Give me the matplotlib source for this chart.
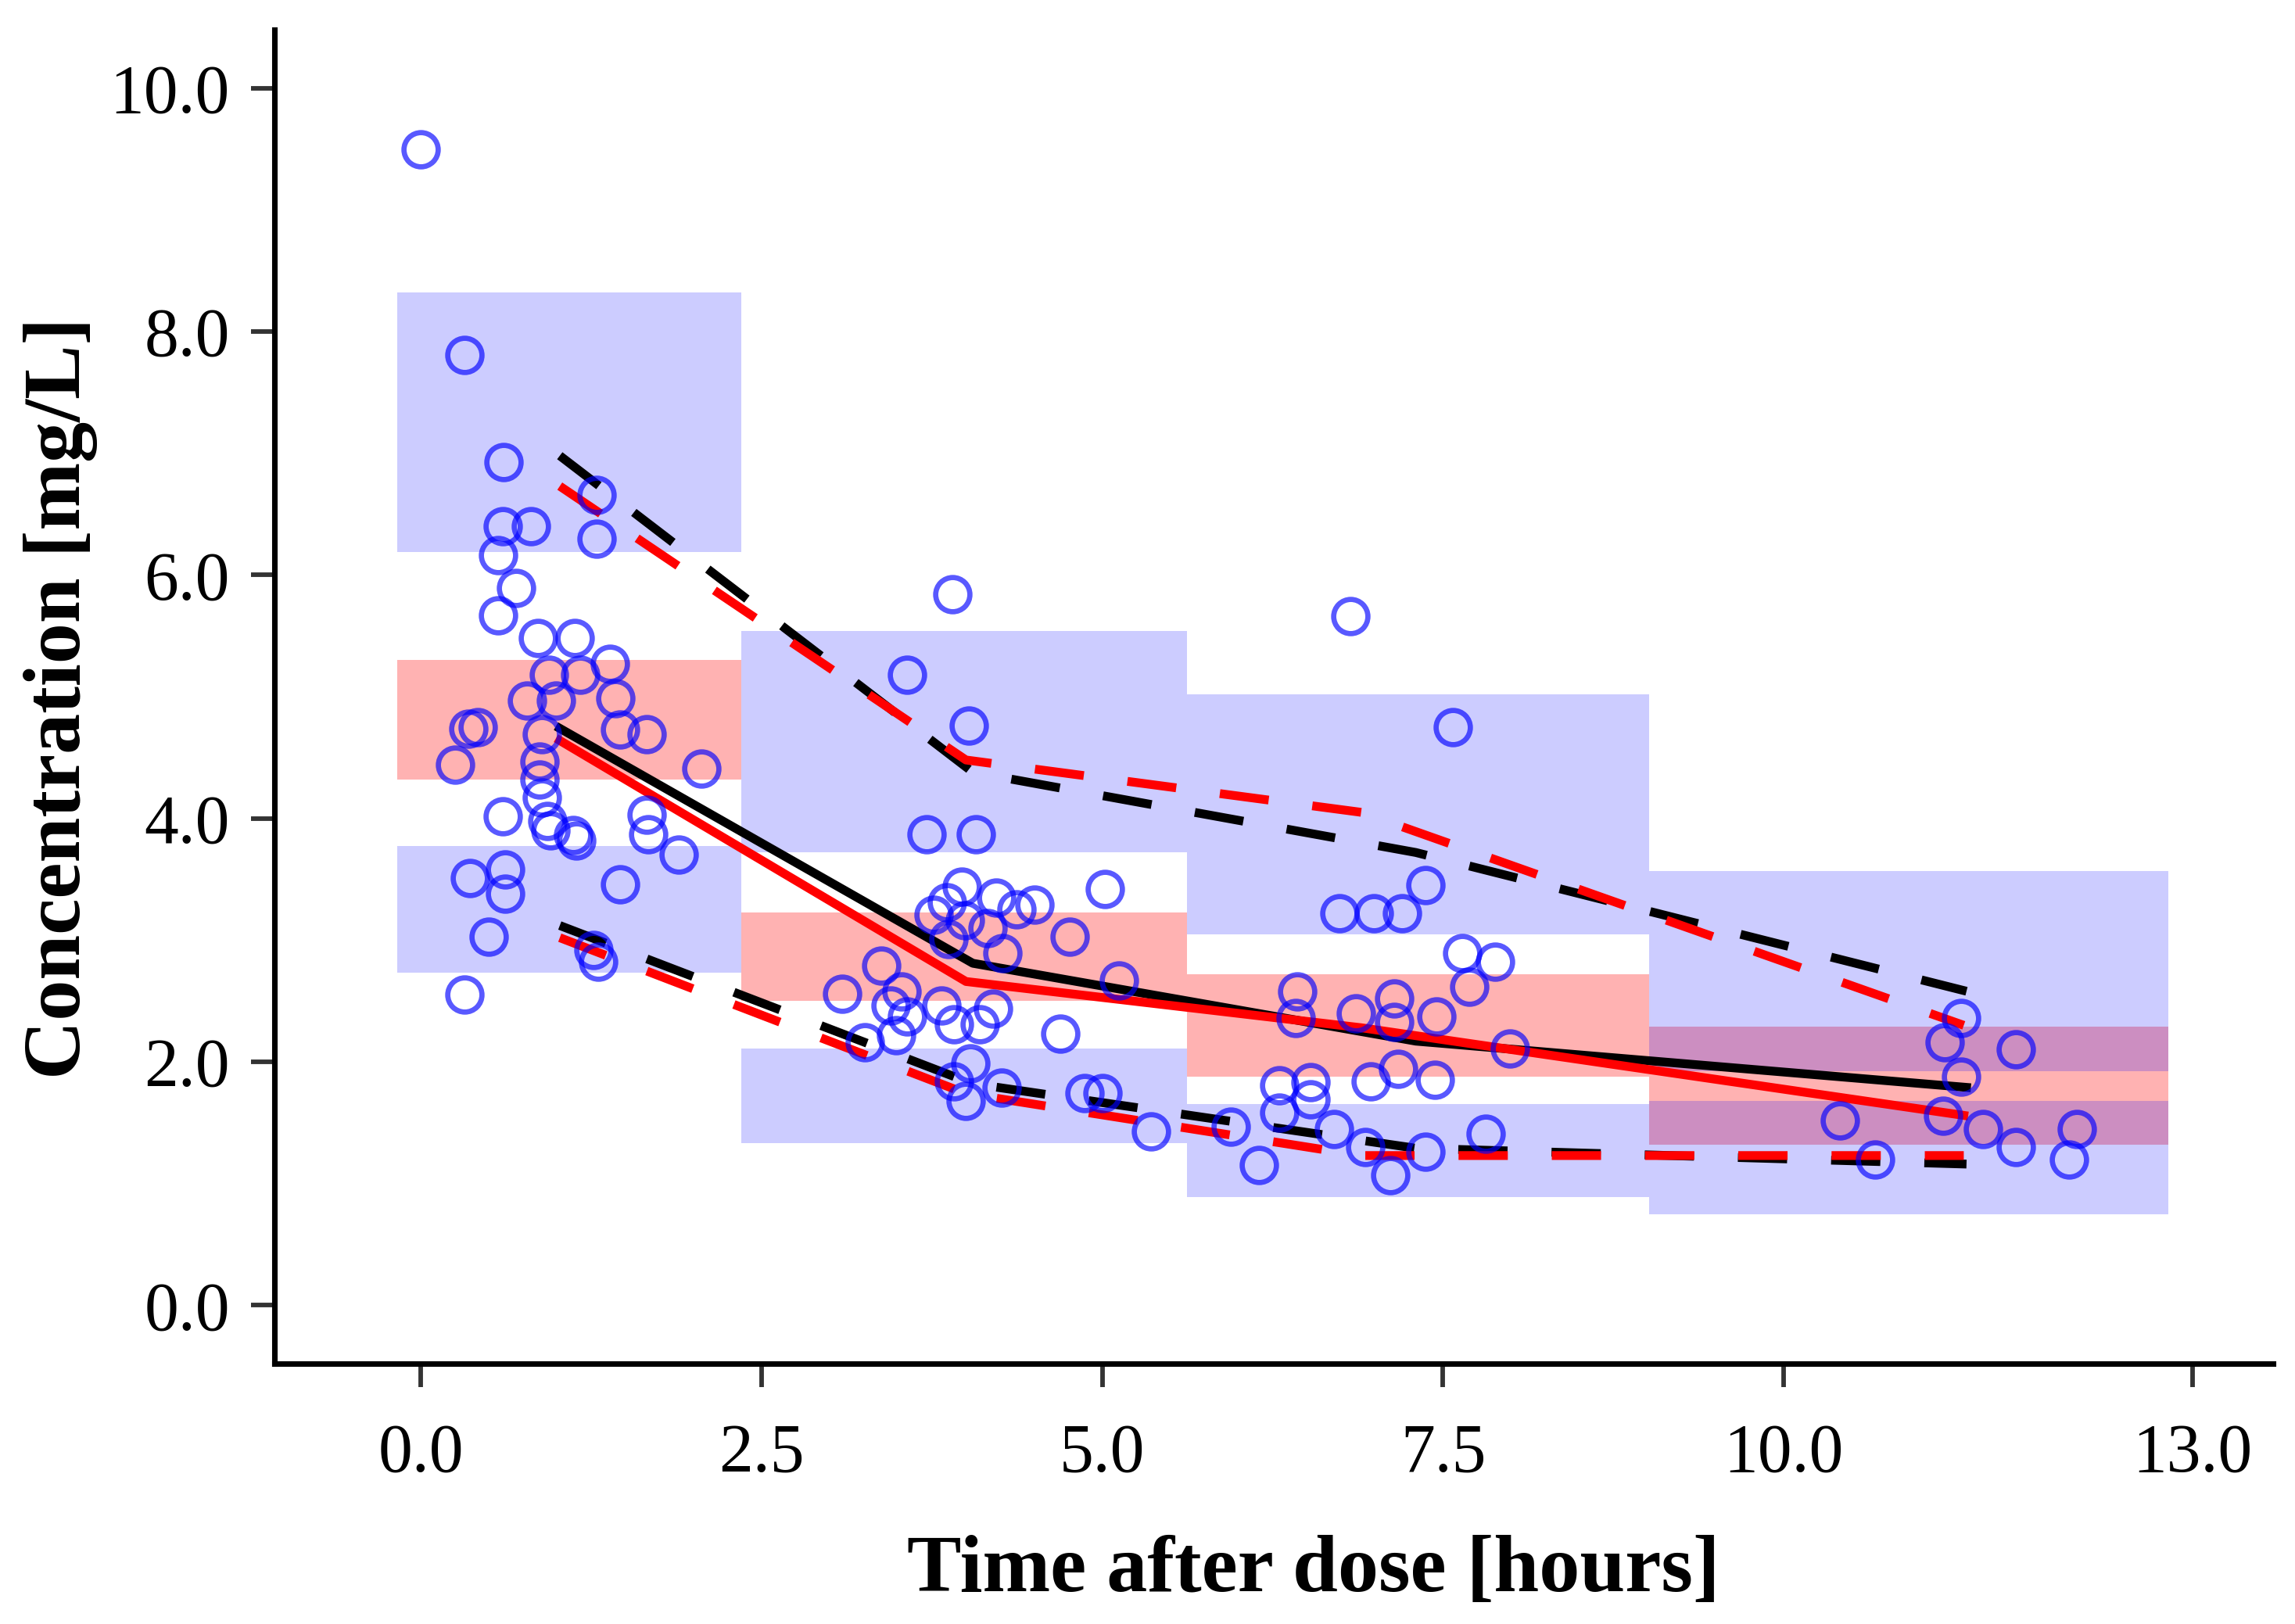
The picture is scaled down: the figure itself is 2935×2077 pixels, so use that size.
import matplotlib
matplotlib.use('Agg')
import matplotlib.pyplot as plt

plt.rcParams['font.family'] = ['Liberation Serif', 'DejaVu Serif']

# observed concentrations
obs_time = [0.00, 0.32, 0.61, 1.29, 0.60, 0.81, 1.29, 0.57, 0.70, 0.57,
            0.86, 1.13, 1.39, 0.94, 1.17, 0.78, 0.99, 1.43, 0.35, 0.42,
            0.89, 1.46, 1.66, 0.25, 0.87, 0.87, 0.89, 0.60, 0.93, 1.12,
            0.95, 1.66, 1.67, 1.89, 2.06, 1.14, 0.36, 0.62, 0.62, 1.46,
            0.50, 1.27, 1.30, 0.32,
            3.09, 3.38, 3.26, 3.57, 3.90, 4.02, 3.71, 4.07, 3.97, 4.22,
            3.86, 4.50, 5.02, 4.37, 3.76, 3.99, 4.76, 4.16, 3.87, 4.27,
            5.12, 3.45, 3.57, 3.53, 3.82, 4.20, 3.91, 4.10, 4.69, 3.49,
            4.03, 3.91, 4.26, 4.87, 5.00, 4.00, 5.36,
            6.82, 7.57, 7.37, 6.74, 6.99, 7.20, 7.64, 7.88, 7.69, 6.43,
            6.42, 6.86, 7.14, 7.14, 7.45, 7.99, 6.30, 6.53, 6.53, 6.30,
            6.97, 7.17, 7.44, 5.94, 6.15, 6.70, 6.93, 7.11, 7.37, 7.81,
            10.41, 10.67, 11.30, 11.18, 11.70, 11.30, 11.17, 11.46, 11.70, 12.15,
            12.09]
obs_conc = [9.50, 7.81, 6.93, 6.66, 6.40, 6.40, 6.30, 6.16, 5.89, 5.67,
            5.48, 5.48, 5.27, 5.18, 5.18, 4.97, 4.97, 4.99, 4.74, 4.75,
            4.69, 4.73, 4.69, 4.44, 4.47, 4.32, 4.17, 4.02, 3.98, 3.86,
            3.90, 4.03, 3.87, 3.70, 4.41, 3.82, 3.51, 3.58, 3.38, 3.46,
            3.03, 2.92, 2.82, 2.55,
            2.56, 2.79, 2.16, 5.18, 5.84, 4.76, 3.87, 3.87, 3.44, 3.35,
            3.31, 3.29, 3.42, 3.25, 3.21, 3.16, 3.03, 3.10, 3.01, 2.89,
            2.67, 2.46, 2.37, 2.58, 2.46, 2.44, 2.31, 2.31, 2.23, 2.22,
            1.99, 1.84, 1.79, 1.74, 1.74, 1.68, 1.43,
            5.66, 4.75, 3.45, 3.22, 3.22, 3.22, 2.89, 2.82, 2.62, 2.58,
            2.36, 2.40, 2.52, 2.33, 2.37, 2.11, 1.81, 1.83, 1.69, 1.58,
            1.84, 1.94, 1.85, 1.47, 1.15, 1.45, 1.30, 1.07, 1.26, 1.41,
            1.52, 1.20, 2.36, 2.16, 2.10, 1.88, 1.56, 1.45, 1.30, 1.45,
            1.20]

# time bins and simulated confidence intervals
bin_edges = [-0.17, 2.35, 5.62, 9.01, 12.82]
hi_ci_top = [8.32, 5.54, 5.02, 3.57]
hi_ci_bot = [6.19, 3.72, 3.05, 1.92]
med_ci_top = [5.30, 3.23, 2.72, 2.29]
med_ci_bot = [4.32, 2.50, 1.88, 1.32]
lo_ci_top = [3.77, 2.11, 1.65, 1.68]
lo_ci_bot = [2.73, 1.33, 0.89, 0.75]

# observed percentiles (red) and predicted percentiles (black)
obs_x = [1.02, 4.00, 6.90, 11.32]
obs_p50 = [4.64, 2.66, 2.28, 1.56]
obs_p95 = [6.73, 4.48, 4.05, 2.30]
obs_p05 = [3.02, 1.74, 1.23, 1.23]
pred_x = [1.02, 4.05, 7.30, 11.34]
pred_p50 = [4.74, 2.81, 2.17, 1.79]
pred_p95 = [6.98, 4.38, 3.72, 2.58]
pred_p05 = [3.12, 1.82, 1.29, 1.16]

fig = plt.figure(figsize=(2935 / 300, 2077 / 300), dpi=300)
ax = fig.add_axes([0.1196, 0.1603, 0.8709, 0.8214])

for i in range(len(bin_edges) - 1):
    xs = [bin_edges[i], bin_edges[i + 1]]
    ax.fill_between(xs, med_ci_bot[i], med_ci_top[i], color='red', alpha=0.3, lw=0, zorder=1)
    ax.fill_between(xs, hi_ci_bot[i], hi_ci_top[i], color='blue', alpha=0.2, lw=0, zorder=1.5)
    ax.fill_between(xs, lo_ci_bot[i], lo_ci_top[i], color='blue', alpha=0.2, lw=0, zorder=1.5)

lw = 2.7
dash = (0, (5.6, 5.0))
ax.plot(pred_x, pred_p50, color='black', lw=lw, zorder=2)
ax.plot(pred_x, pred_p95, color='black', lw=lw, ls=dash, zorder=2)
ax.plot(pred_x, pred_p05, color='black', lw=lw, ls=dash, zorder=2)
ax.plot(obs_x, obs_p50, color='red', lw=lw, zorder=3)
ax.plot(obs_x, obs_p95, color='red', lw=lw, ls=dash, zorder=3)
ax.plot(obs_x, obs_p05, color='red', lw=lw, ls=dash, zorder=3)

ax.plot(obs_time, obs_conc, 'o', mfc='none', mec='blue', alpha=0.65,
        ms=10.5, mew=1.6, zorder=4)

ax.set_xlim(-1.073, 13.59)
ax.set_ylim(-0.48, 10.48)
xt = [0, 2.5, 5, 7.5, 10, 13]
yt = [0, 2, 4, 6, 8, 10]
ax.set_xticks(xt)
ax.set_xticklabels(['%.1f' % v for v in xt])
ax.set_yticks(yt)
ax.set_yticklabels(['%.1f' % v for v in yt])

for s in ['top', 'right']:
    ax.spines[s].set_visible(False)
for s in ['left', 'bottom']:
    ax.spines[s].set_linewidth(1.7)
ax.tick_params(axis='both', direction='out', length=7.2, width=1.4,
               color='#333333', labelsize=21)
ax.tick_params(axis='x', pad=11)
ax.tick_params(axis='y', pad=6.5)

fig.text(1680 / 2935, 1 - 2010 / 2077, 'Time after dose [hours]', fontsize=25,
         fontweight='bold', ha='center', va='center')
fig.text(78 / 2935, 1 - 893 / 2077, 'Concentration [mg/L]', fontsize=25,
         fontweight='bold', ha='center', va='center', rotation=90)

fig.savefig('out.png', dpi=300)
